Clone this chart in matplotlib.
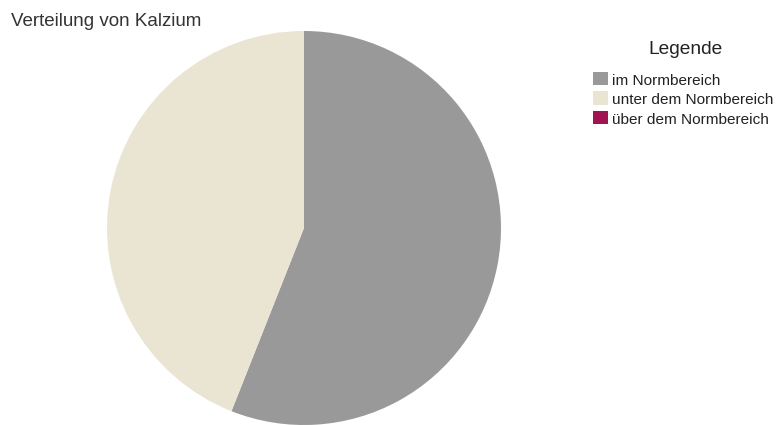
import matplotlib
matplotlib.use("Agg")
import matplotlib.pyplot as plt
from matplotlib.patches import Rectangle

plt.rcParams['font.family'] = ['Liberation Sans', 'DejaVu Sans']

title = "Verteilung von Kalzium"
legend_title = "Legende"
categories = ["im Normbereich", "unter dem Normbereich", "über dem Normbereich"]
values = [56, 44, 0]
colors = ["#999999", "#EAE4D2", "#A0154F"]

W, H = 778, 425
fig = plt.figure(figsize=(W / 100, H / 100), dpi=100)

# pie area in pixels: centre and radius
cx, cy, r = 304, 228, 197
ax = fig.add_axes([(cx - r) / W, (H - cy - r) / H, 2 * r / W, 2 * r / H])
ax.pie(values, colors=colors, startangle=90, counterclock=False,
       radius=1.0, wedgeprops=dict(linewidth=0))
ax.set_xlim(-1, 1)
ax.set_ylim(-1, 1)
ax.set_aspect('auto')
ax.axis('off')

fig.text(11 / W, 1 - 25.5 / H, title, fontsize=13.5, color="#333333",
         ha='left', va='baseline')

# legend
fig.text(685 / W, 1 - 54 / H, legend_title, fontsize=13.8, color="#222222",
         ha='center', va='baseline')
row0, step = 85, 19.5
for i, (lab, col) in enumerate(zip(categories, colors)):
    yb = row0 + i * step
    fig.patches.append(Rectangle((593 / W, 1 - yb / H), 15 / W, 13 / H,
                                 transform=fig.transFigure, facecolor=col,
                                 edgecolor='none'))
    fig.text(612 / W, 1 - yb / H, lab, fontsize=11.1, color="#222222",
             ha='left', va='baseline')

fig.savefig("out.png", dpi=100)
